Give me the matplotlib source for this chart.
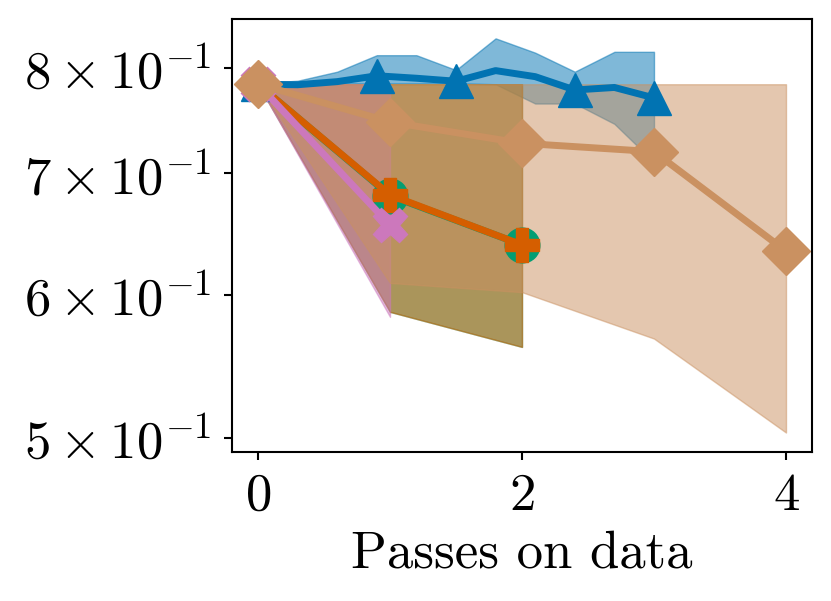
import numpy as np
import matplotlib
matplotlib.use("Agg")
import matplotlib.pyplot as plt
from matplotlib.ticker import NullLocator, FixedLocator, FixedFormatter

plt.rcParams['font.family'] = 'serif'
plt.rcParams['font.serif'] = ['cmr10']
plt.rcParams['mathtext.fontset'] = 'cm'
plt.rcParams['axes.unicode_minus'] = False

# ---- data ----
blue_x = [0.0, 0.3, 0.6, 0.9, 1.2, 1.5, 1.8, 2.1, 2.4, 2.7, 3.0]
blue_y = [0.784, 0.7835, 0.7866, 0.7925, 0.790, 0.787, 0.7977, 0.7916, 0.7783, 0.7808, 0.7705]
blue_lo = [0.784, 0.784, 0.785, 0.785, 0.785, 0.785, 0.784, 0.765, 0.765, 0.7455, 0.71]
blue_hi = [0.785, 0.7875, 0.7966, 0.8135, 0.8135, 0.7983, 0.8311, 0.8161, 0.7966, 0.817, 0.817]
blue_marks = [0, 3, 5, 8, 10]

green_x = [0, 1, 2]
green_y = [0.784, 0.6805, 0.6392]
green_lo = [0.784, 0.587, 0.5614]
green_hi = [0.784, 0.784, 0.784]

verm_x = [0, 1, 2]
verm_y = [0.784, 0.681, 0.6392]
verm_lo = [0.784, 0.587, 0.5614]
verm_hi = [0.784, 0.784, 0.784]

pink_x = [0, 1]
pink_y = [0.784, 0.6555]
pink_lo = [0.784, 0.5833]
pink_hi = [0.784, 0.784]

tan_x = [0, 1, 2, 3, 4]
tan_y = [0.7842, 0.7473, 0.7273, 0.7196, 0.6341]
tan_lo = [0.784, 0.6090, 0.6019, 0.5674, 0.5035]
tan_hi = [0.784, 0.784, 0.784, 0.784, 0.784]

ytick_vals = [0.5, 0.6, 0.7, 0.8]
ytick_labels = [r'$5\times10^{-1}$', r'$6\times10^{-1}$', r'$7\times10^{-1}$', r'$8\times10^{-1}$']
xtick_vals = [0, 2, 4]
xtick_labels = [r'$0$', r'$2$', r'$4$']

c_blue = '#0173b2'
c_green = '#029e73'
c_verm = '#d55e00'
c_pink = '#cc78bc'
c_tan = '#ca9161'

fig = plt.figure(figsize=(8.31, 6.01), dpi=100)
ax = fig.add_axes([231.6/831, 1-452/601, (812.4-231.6)/831, (452-19)/601])

series = [
    (blue_x, blue_y, blue_lo, blue_hi, c_blue, '^', blue_marks),
    (green_x, green_y, green_lo, green_hi, c_green, 'o', None),
    (verm_x, verm_y, verm_lo, verm_hi, c_verm, 'P', None),
    (pink_x, pink_y, pink_lo, pink_hi, c_pink, 'X', None),
    (tan_x, tan_y, tan_lo, tan_hi, c_tan, 'D', None),
]
for x, y, lo, hi, c, m, me in series:
    ax.fill_between(x, lo, hi, color=c, alpha=0.5, linewidth=1.0)
    ax.plot(x, y, color=c, marker=m, markersize=25 if m != 'D' else 24,
            linewidth=5, markevery=me)

ax.set_yscale('log')
ax.set_xlim(-0.2, 4.2)
ax.set_ylim(0.4912, 0.8518)
ax.yaxis.set_major_locator(FixedLocator(ytick_vals))
ax.yaxis.set_major_formatter(FixedFormatter(ytick_labels))
ax.yaxis.set_minor_locator(NullLocator())
ax.set_xticks(xtick_vals)
ax.set_xticklabels(xtick_labels)

ax.tick_params(axis='both', which='major', labelsize=38, length=6, width=1.5, pad=9)
for s in ax.spines.values():
    s.set_linewidth(1.5)
ax.set_xlabel('Passes on data', fontsize=38, labelpad=8)

fig.savefig('out.png', dpi=100)
